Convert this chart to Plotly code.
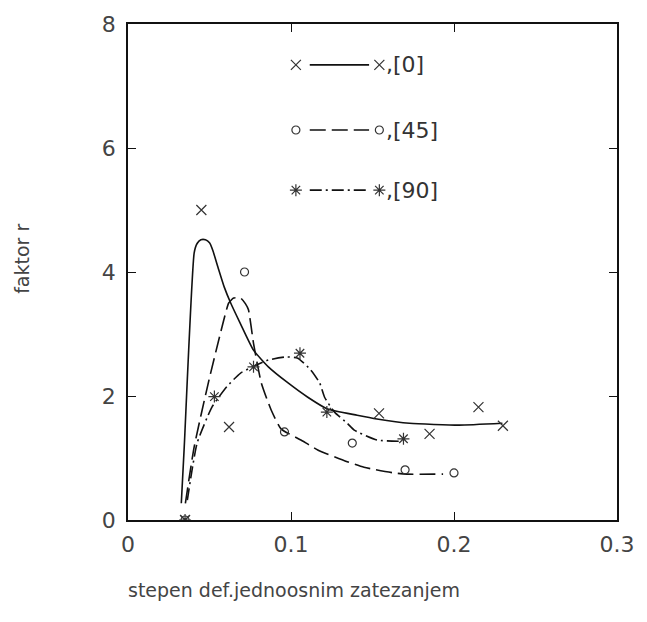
import plotly.graph_objects as go

# Measured points for the three orientations
x0 = [0.035, 0.045, 0.062, 0.154, 0.185, 0.215, 0.230]
y0 = [0.0, 5.0, 1.5, 1.72, 1.39, 1.82, 1.52]
x45 = [0.035, 0.0715, 0.096, 0.1376, 0.170, 0.200]
y45 = [0.0, 4.0, 1.42, 1.24, 0.81, 0.76]
x90 = [0.035, 0.0530, 0.077, 0.1055, 0.122, 0.169]
y90 = [0.0, 1.99, 2.47, 2.69, 1.74, 1.31]

# Fitted curves
cx0 = [0.0327, 0.0345, 0.0406, 0.0424, 0.0447, 0.0475, 0.0500, 0.0520, 0.0555,
       0.0590, 0.0630, 0.0691, 0.0770, 0.0861, 0.0982, 0.1103, 0.1224, 0.1406,
       0.1527, 0.1727, 0.2030, 0.2297]
cy0 = [0.27, 1.18, 4.31, 4.46, 4.52, 4.52, 4.47, 4.35, 4.05,
       3.76, 3.50, 3.16, 2.74, 2.47, 2.21, 1.98, 1.79, 1.69,
       1.63, 1.56, 1.53, 1.56]
cx45 = [0.0352, 0.0406, 0.0497, 0.0588, 0.0618, 0.0648, 0.0691, 0.0720, 0.0739,
        0.0770, 0.0818, 0.0879, 0.0939, 0.1061, 0.1164, 0.1345, 0.1448, 0.1630,
        0.1709, 0.1933]
cy45 = [0.27, 1.18, 2.26, 3.23, 3.50, 3.58, 3.58, 3.49, 3.39,
        2.85, 2.21, 1.77, 1.47, 1.29, 1.13, 0.94, 0.85, 0.76,
        0.74, 0.74]
cx90 = [0.0364, 0.0424, 0.0515, 0.0606, 0.0691, 0.0788, 0.0861, 0.0970, 0.1042,
        0.1121, 0.1176, 0.1206, 0.1267, 0.1345, 0.1388, 0.1527, 0.1691]
cy90 = [0.32, 1.24, 1.82, 2.15, 2.37, 2.50, 2.58, 2.63, 2.61,
        2.42, 2.21, 1.98, 1.74, 1.56, 1.45, 1.29, 1.27]

labels = [",[0]", ",[45]", ",[90]"]
x_ticks = [0, 0.1, 0.2, 0.3]
x_ticktext = ["0", "0.1", "0.2", "0.3"]
y_ticks = [0, 2, 4, 6, 8]

FONT = "DejaVu Sans"
INK = "#111"
MARK = "#333"
TEXT = "#444"

W, H = 647, 622
ML, MR, MT, MB = 128, 24, 23, 102
PW, PH = W - ML - MR, H - MT - MB


def px_to_paper(px, py):
    return (px - ML) / PW, (H - MB - py) / PH


fig = go.Figure()

curves = [
    (cx0, cy0, "solid"),
    (cx45, cy45, "16px,6px"),
    (cx90, cy90, "12px,4px,2px,4px"),
]
for cx, cy, dash in curves:
    fig.add_trace(go.Scatter(x=cx, y=cy, mode="lines", showlegend=False,
                             line=dict(color=INK, width=1.6, dash=dash,
                                       shape="spline", smoothing=0.5),
                             hoverinfo="skip"))

symbols = ["x-thin-open", "circle-open", "asterisk-open"]
sizes = [10, 8, 10]
for (xs, ys), sym, sz in zip([(x0, y0), (x45, y45), (x90, y90)], symbols, sizes):
    fig.add_trace(go.Scatter(x=xs, y=ys, mode="markers", showlegend=False,
                             marker=dict(symbol=sym, size=sz, color=MARK,
                                         line=dict(color=MARK, width=1.2))))

# Hand-drawn key: marker, line sample, marker, label
key_y = [7.34, 6.29, 5.32]
key_x0, key_x1 = 0.1115, 0.1479
key_m0, key_m1 = 0.1030, 0.1542
for (cx, cy, dash), sym, sz, ky, lab in zip(curves, symbols, sizes, key_y, labels):
    fig.add_trace(go.Scatter(x=[key_x0, key_x1], y=[ky, ky], mode="lines",
                             showlegend=False, hoverinfo="skip",
                             line=dict(color=INK, width=1.6, dash=dash)))
    fig.add_trace(go.Scatter(x=[key_m0, key_m1], y=[ky, ky], mode="markers",
                             showlegend=False, hoverinfo="skip",
                             marker=dict(symbol=sym, size=sz, color=MARK,
                                         line=dict(color=MARK, width=1.2))))
    fig.add_annotation(x=0.1572, y=ky, xref="x", yref="y", text=lab,
                       showarrow=False, xanchor="left", yanchor="middle",
                       font=dict(family=FONT, size=22, color="#333"))

# Axis titles
yt_x, yt_y = px_to_paper(20, 258)
fig.add_annotation(x=yt_x, y=yt_y, xref="paper", yref="paper", text="faktor r",
                   showarrow=False, textangle=-90,
                   xanchor="center", yanchor="middle",
                   font=dict(family=FONT, size=19, color=TEXT))
xt_x, xt_y = px_to_paper(296, 590)
fig.add_annotation(x=xt_x, y=xt_y, xref="paper", yref="paper",
                   text="stepen def.jednoosnim zatezanjem",
                   showarrow=False, xanchor="center", yanchor="middle",
                   font=dict(family=FONT, size=19, color=TEXT))

fig.update_layout(
    width=W, height=H,
    margin=dict(l=ML, r=MR, t=MT, b=MB),
    paper_bgcolor="white", plot_bgcolor="white",
    font=dict(family=FONT, color=TEXT),
)

fig.update_xaxes(range=[0, 0.3], tickvals=x_ticks, ticktext=x_ticktext,
                 showgrid=False, zeroline=False, showline=True,
                 linecolor=INK, linewidth=1.6, mirror="ticks",
                 ticks="inside", ticklen=8, tickcolor=INK, tickwidth=1.2,
                 ticklabelstandoff=4,
                 tickfont=dict(family=FONT, size=22, color=TEXT))
fig.update_yaxes(range=[0, 8], tickvals=y_ticks,
                 showgrid=False, zeroline=False, showline=True,
                 linecolor=INK, linewidth=1.6, mirror="ticks",
                 ticks="inside", ticklen=8, tickcolor=INK, tickwidth=1.2,
                 ticklabelstandoff=6,
                 tickfont=dict(family=FONT, size=22, color=TEXT))

fig.write_html("out.html")
